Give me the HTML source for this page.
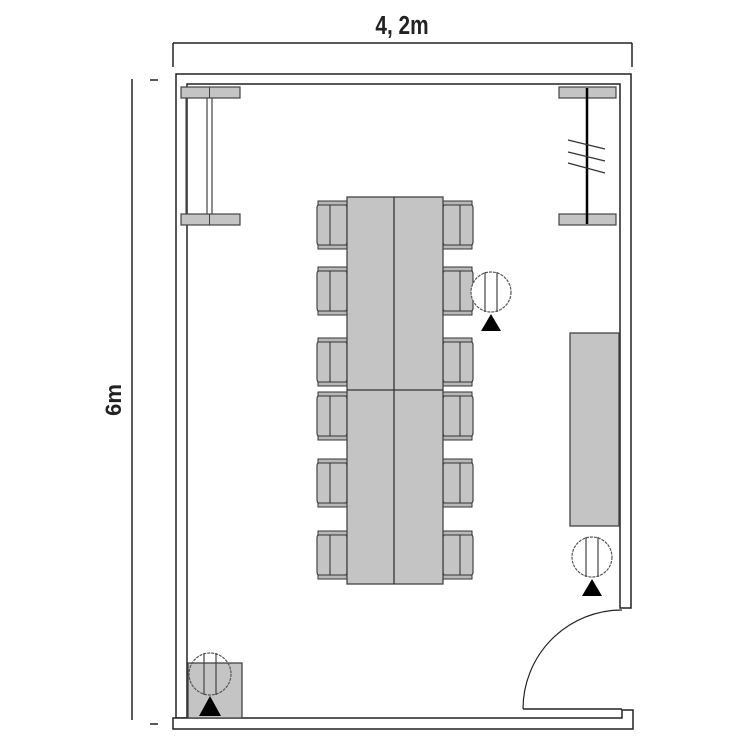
<!DOCTYPE html>
<html><head><meta charset="utf-8"><style>
html,body{margin:0;padding:0;background:#fff;}
svg{display:block;}
</style></head><body>
<svg width="750" height="750" viewBox="0 0 750 750" xmlns="http://www.w3.org/2000/svg">
<defs>
<g id="chL">
  <rect x="0" y="2" width="30" height="44" rx="5" fill="#c4c4c4" stroke="#444" stroke-width="1.2"/>
  <line x1="13" y1="3" x2="13" y2="45" stroke="#444" stroke-width="1.2"/>
  <rect x="1" y="0" width="29" height="4" fill="#b8b8b8" stroke="#333" stroke-width="1"/>
  <rect x="1" y="44" width="29" height="4" fill="#b8b8b8" stroke="#333" stroke-width="1"/>
</g>
<g id="lamp">
  <circle cx="0" cy="0" r="20" fill="#fff" stroke="#555" stroke-width="1.2" stroke-dasharray="3 1"/>
  <line x1="-6" y1="-20" x2="-6" y2="20" stroke="#444" stroke-width="1.2"/>
  <line x1="6" y1="-20" x2="6" y2="20" stroke="#444" stroke-width="1.2"/>
  <polygon points="0,22 -10,39 10,39" fill="#000"/>
</g>
</defs>
<!-- dimensions -->
<line x1="173" y1="43" x2="632" y2="43" stroke="#222" stroke-width="1.5"/>
<line x1="173" y1="43" x2="173" y2="67" stroke="#222" stroke-width="1.5"/>
<line x1="632" y1="43" x2="632" y2="67" stroke="#222" stroke-width="1.5"/>
<text x="0" y="0" font-family="Liberation Sans, sans-serif" font-size="26" font-weight="bold" text-anchor="middle" transform="translate(402,34) scale(0.8,1)" fill="#222">4, 2m</text>
<line x1="132" y1="79" x2="132" y2="720" stroke="#222" stroke-width="1.5"/>
<line x1="150" y1="80" x2="158" y2="80" stroke="#222" stroke-width="1.5"/>
<line x1="150" y1="724" x2="158" y2="724" stroke="#222" stroke-width="1.5"/>
<text x="0" y="0" font-family="Liberation Sans, sans-serif" font-size="22" font-weight="bold" text-anchor="middle" transform="translate(121,400) rotate(-90)" fill="#222">6m</text>
<!-- walls -->
<path d="M176 718 L176 74 L631 74 L631 608 L620 608 L620 84 L187 84 L187 718 Z" fill="#fff" stroke="#222" stroke-width="1.5"/>
<path d="M173 718 L622 718 L622 710 L633 710 L633 729 L173 729 Z" fill="#fff" stroke="#222" stroke-width="1.5"/>
<!-- door -->
<line x1="523" y1="709" x2="622" y2="709" stroke="#222" stroke-width="1.5"/>
<path d="M523 709 A99 99 0 0 1 622 610" fill="none" stroke="#222" stroke-width="1.2"/>
<!-- left shelf -->
<line x1="186" y1="98" x2="186" y2="214" stroke="#555" stroke-width="1.2"/>
<rect x="207" y="88" width="5" height="136" fill="#fff" stroke="#444" stroke-width="1.2"/>
<rect x="181" y="87" width="59" height="11" fill="#c4c4c4" stroke="#444" stroke-width="1.2"/>
<rect x="181" y="214" width="59" height="11" fill="#c4c4c4" stroke="#444" stroke-width="1.2"/>
<line x1="209.5" y1="87" x2="209.5" y2="98" stroke="#444"/>
<line x1="209.5" y1="214" x2="209.5" y2="225" stroke="#444"/>
<!-- right shelf -->
<rect x="559" y="87" width="57" height="11" fill="#c4c4c4" stroke="#444" stroke-width="1.2"/>
<rect x="559" y="214" width="57" height="11" fill="#c4c4c4" stroke="#444" stroke-width="1.2"/>
<line x1="587" y1="88" x2="587" y2="224" stroke="#000" stroke-width="2.5"/>
<line x1="568" y1="140" x2="605" y2="149" stroke="#333" stroke-width="1.2"/>
<line x1="568" y1="152" x2="605" y2="161" stroke="#333" stroke-width="1.2"/>
<line x1="568" y1="163" x2="605" y2="173" stroke="#333" stroke-width="1.2"/>
<!-- chairs -->
<use href="#chL" x="317" y="201"/>
<use href="#chL" x="317" y="267"/>
<use href="#chL" x="317" y="338"/>
<use href="#chL" x="317" y="392"/>
<use href="#chL" x="317" y="459"/>
<use href="#chL" x="317" y="531"/>
<g transform="translate(790,0) scale(-1,1)">
<use href="#chL" x="317" y="201"/>
<use href="#chL" x="317" y="267"/>
<use href="#chL" x="317" y="338"/>
<use href="#chL" x="317" y="392"/>
<use href="#chL" x="317" y="459"/>
<use href="#chL" x="317" y="531"/>
</g>
<!-- table -->
<rect x="347" y="197" width="96" height="387" fill="#c4c4c4" stroke="#444" stroke-width="1.3"/>
<line x1="394" y1="197" x2="394" y2="584" stroke="#333" stroke-width="1.3"/>
<line x1="347" y1="390" x2="443" y2="390" stroke="#333" stroke-width="1.3"/>
<!-- lamps -->
<use href="#lamp" x="491" y="292"/>
<!-- cabinet -->
<rect x="570" y="333" width="49" height="193" fill="#c4c4c4" stroke="#444" stroke-width="1.3"/>
<use href="#lamp" x="592" y="557"/>
<!-- bottom-left box -->
<rect x="188" y="663" width="54" height="55" fill="#c4c4c4" stroke="#444" stroke-width="1.3"/>
<g transform="translate(210,674)">
  <circle cx="0" cy="0" r="21" fill="none" stroke="#555" stroke-width="1.2" stroke-dasharray="3 1"/>
  <line x1="-6" y1="-21" x2="-6" y2="21" stroke="#444" stroke-width="1.2"/>
  <line x1="6" y1="-21" x2="6" y2="21" stroke="#444" stroke-width="1.2"/>
  <polygon points="0,22 -11,42 11,42" fill="#000"/>
</g>
</svg>
</body></html>
